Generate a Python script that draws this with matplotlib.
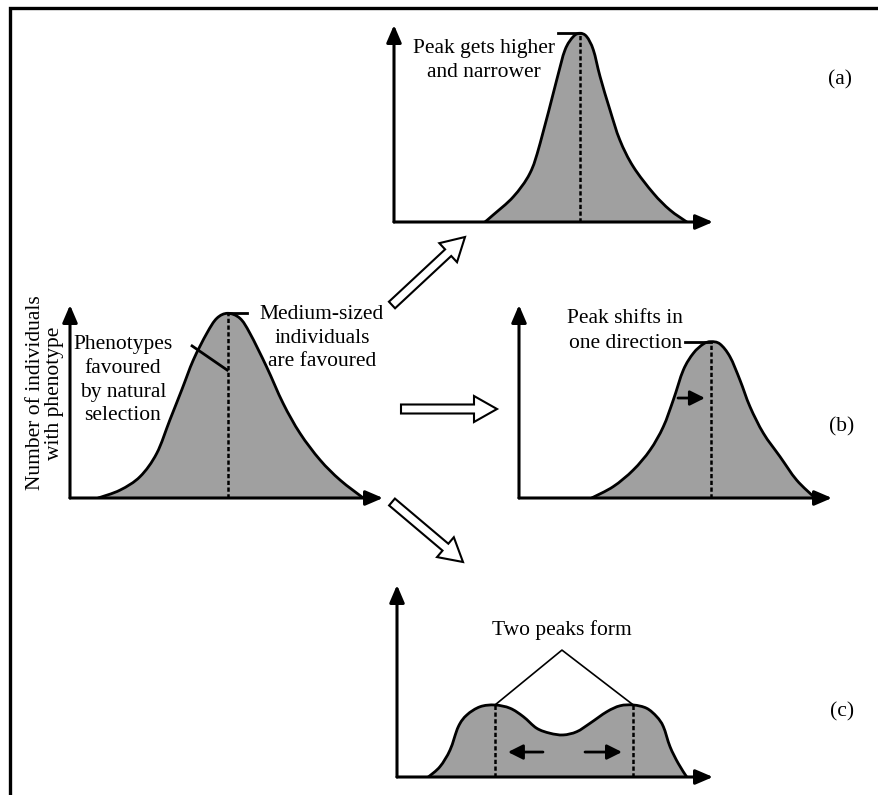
"""
Disruptive / directional / stabilising selection diagram.
"""
import matplotlib.pyplot as plt
from matplotlib.patches import FancyArrow, PathPatch
from matplotlib.path import Path

plt.rcParams['font.family'] = ['Liberation Serif', 'DejaVu Serif']
FS = 15.5
GREY = '#a0a0a0'

# starting population (phenotype 0-100, number 0-100)
start_x = [9.0, 16.0, 22.4, 27.7, 31.9, 35.7, 39.4, 43.7, 46.9, 50.4,
           54.3, 57.5, 62.8, 68.1, 73.5, 79.9, 86.3, 93.7]
start_y = [0.0, 4.1, 11.1, 23.1, 40.4, 56.0, 71.5, 85.3, 93.1, 95.7,
           93.1, 85.3, 68.0, 49.0, 33.5, 19.7, 9.3, 0.0]
start_peak = 50.4

# (a) stabilising
a_x = [28.5, 31.1, 37.4, 42.6, 45.8, 51.0, 53.6, 56.2, 58.3,
       60.4, 62.5, 64.6, 67.7, 70.8, 75.0, 81.3, 86.5, 91.8]
a_y = [0.0, 3.6, 12.8, 24.7, 39.9, 72.1, 87.3, 94.1, 95.8,
       94.1, 87.3, 73.8, 56.9, 41.6, 28.1, 14.6, 6.1, 0.0]
a_peak = 58.3

# (b) directional
b_x = [23.2, 30.1, 36.5, 41.9, 46.1, 49.3, 52.5, 55.7, 58.9, 61.3,
       64.2, 67.4, 70.6, 73.8, 78.1, 83.4, 88.7, 94.6]
b_y = [0.0, 5.9, 14.5, 24.9, 36.9, 50.8, 66.3, 75.0, 79.8, 81.0,
       79.8, 73.2, 61.1, 47.3, 33.5, 21.4, 9.3, 0.0]
b_peak = 61.3

# (c) disruptive
c_x = [9.9, 13.6, 16.8, 19.4, 22.1, 26.3, 31.0, 35.8, 40.0, 44.2, 48.4,
       52.6, 56.9, 61.1, 66.4, 70.6, 74.8, 79.0, 82.2, 84.3, 86.4, 89.0, 91.7]
c_y = [0.0, 5.4, 14.1, 26.2, 32.3, 36.6, 37.5, 35.8, 31.4, 25.4, 22.8,
       21.9, 23.6, 28.0, 34.0, 37.1, 37.5, 35.8, 31.4, 26.2, 15.8, 7.1, 0.0]
c_peaks = [31.0, 74.8]

W, H = 879, 795
fig = plt.figure(figsize=(W / 100, H / 100), dpi=100)

# page overlay in pixel units: frame, block arrows, panel letters
ov = fig.add_axes([0, 0, 1, 1])
ov.set_xlim(0, W)
ov.set_ylim(H, 0)
ov.axis('off')
ov.plot([10.5, 10.5, W], [H, 7.5, 7.5], color='black', lw=2.4,
        solid_joinstyle='miter')
for x0, y0, x1, y1 in [(392, 305, 465, 237), (401, 409, 497, 409),
                       (392, 502, 463, 562)]:
    ov.add_patch(FancyArrow(x0, y0, x1 - x0, y1 - y0, width=9,
                            head_width=26, head_length=23,
                            length_includes_head=True, fc='white',
                            ec='black', lw=1.5))
for lab, x, y in [('(a)', 840, 80), ('(b)', 842, 427), ('(c)', 842, 712)]:
    ov.text(x, y, lab, fontsize=FS, ha='center', va='center')

ARROW = dict(arrowstyle='-|>,head_length=0.7,head_width=0.3', lw=2.2,
             color='black', shrinkA=0, shrinkB=0, mutation_scale=15)
SMALL = dict(arrowstyle='-|>,head_length=0.6,head_width=0.3', lw=2,
             color='black', shrinkA=0, shrinkB=0, mutation_scale=15)


def panel(left, top, right, bottom):
    ax = fig.add_axes([left / W, 1 - bottom / H, (right - left) / W,
                       (bottom - top) / H])
    ax.set_xlim(0, 100)
    ax.set_ylim(0, 100)
    ax.axis('off')
    for tip in [(1, 0), (0, 1)]:
        ax.annotate('', xy=tip, xytext=(0, 0), xycoords='axes fraction',
                    arrowprops=ARROW)
    return ax


def smooth(x, y):
    # Catmull-Rom through the read points, as cubic bezier segments
    pts = list(zip(x, y))
    verts, codes = [pts[0]], [Path.MOVETO]
    n = len(pts)
    for i in range(n - 1):
        p0 = pts[max(i - 1, 0)]
        p1, p2 = pts[i], pts[i + 1]
        p3 = pts[min(i + 2, n - 1)]
        c1 = (p1[0] + (p2[0] - p0[0]) / 6, p1[1] + (p2[1] - p0[1]) / 6)
        c2 = (p2[0] - (p3[0] - p1[0]) / 6, p2[1] - (p3[1] - p1[1]) / 6)
        verts += [c1, c2, p2]
        codes += [Path.CURVE4] * 3
    return verts, codes


def curve(ax, x, y):
    verts, codes = smooth(x, y)
    ax.add_patch(PathPatch(Path(verts + [verts[0]],
                                codes + [Path.CLOSEPOLY]),
                           fc=GREY, ec='none'))
    ax.add_patch(PathPatch(Path(verts, codes), fc='none', ec='black',
                           lw=2, joinstyle='round', capstyle='round'))


def dashed(ax, x, top):
    ax.plot([x, x], [0, top], color='black', lw=1.8, ls=(0, (1.7, 1.0)))


# starting population
ax0 = panel(70, 305, 383, 498)
curve(ax0, start_x, start_y)
dashed(ax0, start_peak, max(start_y))
ax0.plot([start_peak, 56.5], [max(start_y)] * 2, color='black', lw=2)
ax0.plot([39.0, 50.2], [78.8, 66.3], color='black', lw=2)
ax0.text(-0.079, 0.545, 'Number of individuals\nwith phenotype',
         transform=ax0.transAxes, rotation=90, ha='center', va='center',
         multialignment='center', fontsize=FS, linespacing=1.0)
ax0.text(16.9, 61.1, 'Phenotypes\nfavoured\nby natural\nselection',
         ha='center', va='center', fontsize=FS, linespacing=1.35)
ax0.text(80.5, 82.9, 'Medium-sized\nindividuals\nare favoured',
         ha='center', va='center', fontsize=FS, linespacing=1.35)

# (a)
axa = panel(394, 25, 713, 222)
curve(axa, a_x, a_y)
dashed(axa, a_peak, max(a_y))
axa.plot([51.4, a_peak], [max(a_y)] * 2, color='black', lw=2)
axa.text(28.3, 82.0, 'Peak gets higher\nand narrower', ha='center',
         va='center', fontsize=FS, linespacing=1.4)

# (b)
axb = panel(519, 305, 832, 498)
curve(axb, b_x, b_y)
dashed(axb, b_peak, max(b_y))
axb.plot([53.0, b_peak], [max(b_y)] * 2, color='black', lw=2)
axb.text(33.9, 86.5, 'Peak shifts in\none direction', ha='center',
         va='center', fontsize=FS, linespacing=1.4)
axb.annotate('', xy=(59.4, 51.8), xytext=(50.8, 51.8), arrowprops=SMALL)

# (c)
axc = panel(397, 585, 713, 777)
curve(axc, c_x, c_y)
for p in c_peaks:
    dashed(axc, p, max(c_y))
axc.plot([c_peaks[0], 52.2, c_peaks[1]], [max(c_y), 66.1, max(c_y)],
         color='black', lw=1.2)
axc.text(52.2, 71.4, 'Two peaks form', ha='center', va='bottom',
         fontsize=FS)
for x0, x1 in [(46.2, 35.1), (59.5, 71.2)]:
    axc.annotate('', xy=(x1, 13.0), xytext=(x0, 13.0), arrowprops=SMALL)

fig.savefig('out.png', dpi=100)
